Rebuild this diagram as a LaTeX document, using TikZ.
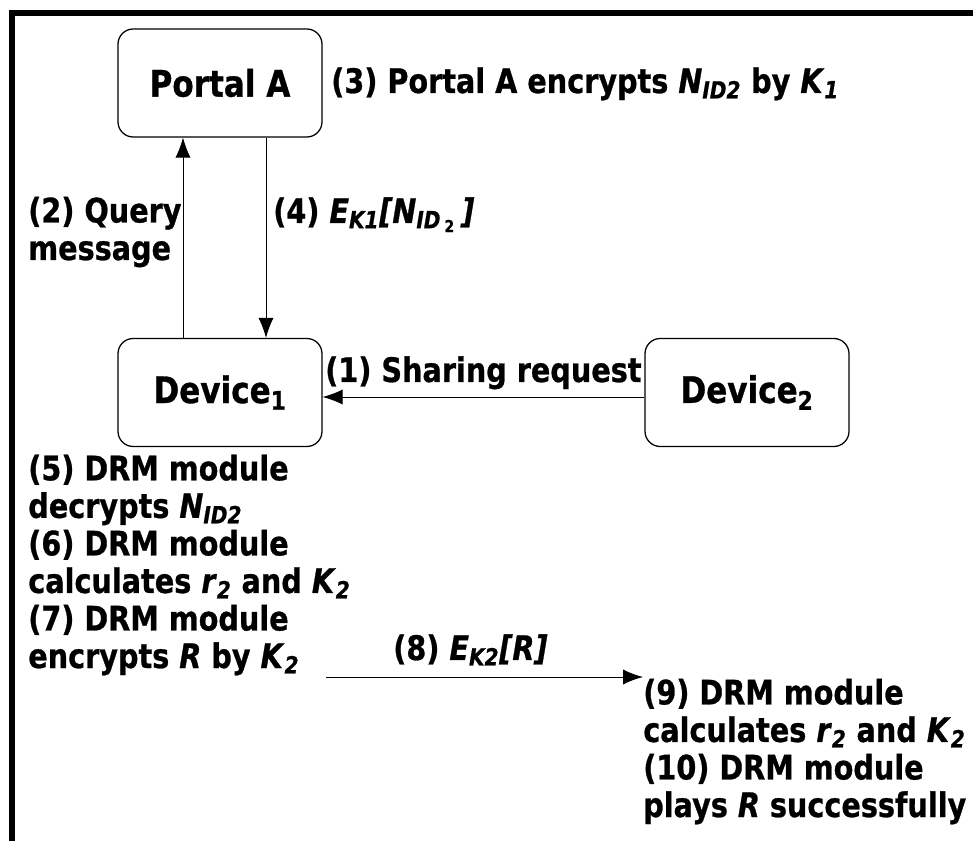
\documentclass[tikz,border=0pt]{standalone}
\usepackage{fontspec}
\setmainfont{DejaVu Sans}[FakeStretch=0.85,FakeBold=0.8]
\usetikzlibrary{arrows.meta}

\newcommand{\isub}[2]{\textit{#1}\textsubscript{\textit{#2}}}

\tikzset{
    box/.style={draw, line width=0.9pt, rounded corners=0.38cm, minimum width=5.1cm, minimum height=2.7cm, font=\fontsize{26}{28}\selectfont\bfseries},
    lbl/.style={anchor=base west, inner sep=0pt, align=left},
    msg/.style={line width=0.7pt, -{Latex[length=0.5cm,width=0.38cm]}}
}

\begin{document}
\begin{tikzpicture}[font=\fontsize{24}{26.7}\selectfont\bfseries]
                \useasboundingbox (0,0) rectangle (24.325,-21.025);
                \draw[line width=0.15cm] (0.3,-21.2) -- (0.3,-0.325) -- (24.5,-0.325);

                \node[box] (portal) at (5.5,-2.075) {Portal A};
                \node[box] (dev1) at (5.5,-9.8125) {Device\textsubscript{1}};
                \node[box] (dev2) at (18.675,-9.8125) {Device\textsubscript{2}};

                \draw[msg] ([xshift=-0.925cm]dev1.north) -- ([xshift=-0.925cm]portal.south);
                \draw[msg] ([xshift=1.15cm]portal.south) -- ([xshift=1.15cm]dev1.north);
                \draw[msg] ([yshift=-0.1125cm]dev2.west) -- ([yshift=-0.1125cm]dev1.east);
                \coordinate (from8) at (8.15,-16.925);
                \coordinate (to8) at (16.075,-16.925);
                \draw[msg] (from8) -- (to8);

                % multi-line labels sit on the baseline of their last line
                \node[lbl] (step3) at (8.275,-2.325) {(3) Portal A encrypts \isub{N}{ID2} by \isub{K}{1}};
                \node[lbl] (step2) at (0.7,-6.5) {(2) Query\\message};
                \node[lbl] (step4) at (6.825,-5.575) {(4) \isub{E}{K1}\textit{[N}\textsubscript{\textit{ID}\,\textsubscript{2}}\textit{\,]}};
                \node[lbl] (step1) at (8.125,-9.55) {(1) Sharing request};
                \node[lbl] (step5) at (0.7,-16.7) {(5) DRM module\\decrypts \isub{N}{ID2}\\(6) DRM module\\calculates \isub{r}{2} and \isub{K}{2}\\(7) DRM module\\encrypts \textit{R} by \isub{K}{2}};
                \node[lbl] (step8) at (9.825,-16.5) {(8) \isub{E}{K2}\textit{[R]}};
                \node[lbl] (step9) at (16.075,-20.425) {(9) DRM module\\calculates \isub{r}{2} and \isub{K}{2}\\(10) DRM module\\plays \textit{R} successfully};
            \end{tikzpicture}
\end{document}
